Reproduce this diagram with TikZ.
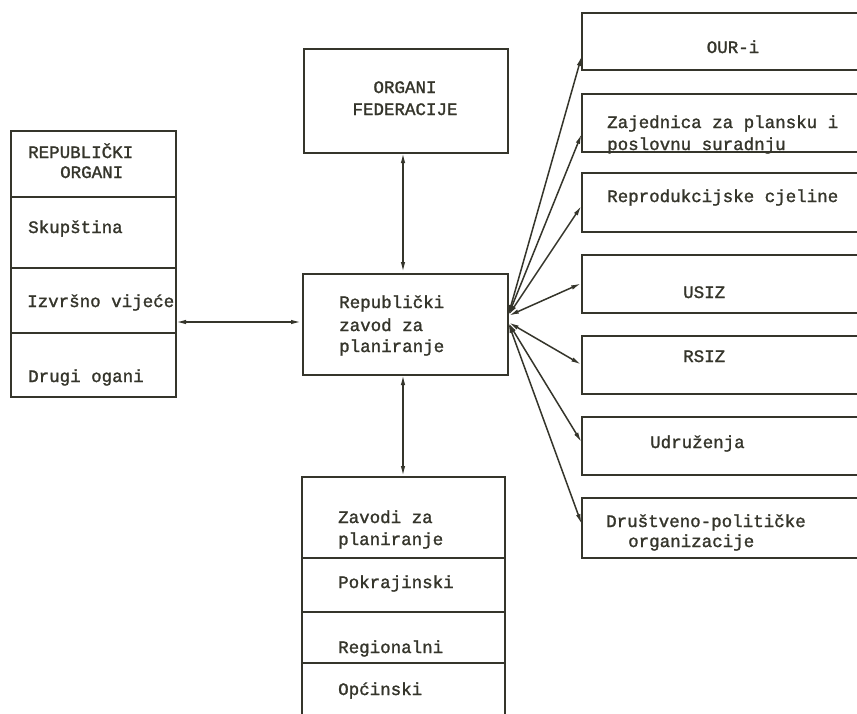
\documentclass[tikz,border=0pt]{standalone}
\usepackage{fontspec}
\setmonofont[FakeBold=1.4]{Liberation Mono}
\usetikzlibrary{arrows.meta}
\definecolor{ink}{HTML}{35352B}
\begin{document}
\begin{tikzpicture}[x=1pt,y=-1pt,
  box/.style={draw=ink,line width=2pt,rectangle,inner sep=0pt,anchor=north west},
  openbox/.style={rectangle,inner sep=0pt,anchor=north west},
  edge/.style={draw=ink,line width=2pt},
  txt/.style={text=ink,font=\ttfamily\fontsize{17.5}{20}\selectfont,inner sep=0pt},
  link/.style={draw=ink,line width=1.5pt,{Latex[length=10pt,width=4.5pt]}-{Latex[length=10pt,width=4.5pt]},shorten <=1pt,shorten >=1pt}]
\useasboundingbox[fill=white] (0,0) rectangle (857,713);

% left box
\node[box,minimum width=165pt,minimum height=266pt] (rep) at (10,130) {};
\draw[edge] (10,197) -- (175,197);
\draw[edge] (10,268) -- (175,268);
\draw[edge] (10,333) -- (175,333);
\node[txt,anchor=base west] (t1) at (28,158) {REPUBLIČKI};
\node[txt,anchor=base west] (t2) at (60,178) {ORGANI};
\node[txt,anchor=base west] (t3) at (28,233) {Skupština};
\node[txt,anchor=base west] (t4) at (27,307) {Izvršno vijeće};
\node[txt,anchor=base west] (t5) at (28,382) {Drugi ogani};
\coordinate (repA) at (175,322);

% top box
\node[box,minimum width=204pt,minimum height=104pt] (fed) at (303,48) {};
\node[txt,anchor=base] (f1) at (405,93) {ORGANI};
\node[txt,anchor=base] (f2) at (405,115) {FEDERACIJE};

% center box
\node[box,minimum width=205pt,minimum height=101pt] (rz) at (302,273) {};
\node[txt,anchor=base west] (c1) at (339,308) {Republički};
\node[txt,anchor=base west] (c2) at (339,331) {zavod za};
\node[txt,anchor=base west] (c3) at (339,352) {planiranje};

% bottom box (open at bottom)
\node[openbox,minimum width=203pt,minimum height=240pt] (zav) at (302,477) {};
\draw[edge] (302,716) -- (302,477) -- (505,477) -- (505,716);
\draw[edge] (302,558) -- (505,558);
\draw[edge] (302,612) -- (505,612);
\draw[edge] (302,663) -- (505,663);
\node[txt,anchor=base west] (z1) at (338,523) {Zavodi za};
\node[txt,anchor=base west] (z2) at (338,545) {planiranje};
\node[txt,anchor=base west] (z3) at (338,588) {Pokrajinski};
\node[txt,anchor=base west] (z4) at (338,653) {Regionalni};
\node[txt,anchor=base west] (z5) at (338,695) {Općinski};

% right boxes (open at right)
\foreach \n/\t/\b in {our/13/70, zaj/94/152, rc/173/232, usiz/255/313, rsiz/336/394, udr/417/475, dpo/498/558}{
  \node[openbox,minimum width=278pt,minimum height={(\b-\t)*1pt}] (\n) at (582,\t) {};
  \draw[edge] (862,\t) -- (582,\t) -- (582,\b) -- (862,\b);
}
\node[txt,anchor=base] (r1) at (733,53) {OUR-i};
\node[txt,anchor=base west] (r2) at (607,128) {Zajednica za plansku i};
\node[txt,anchor=base west] (r3) at (607,150) {poslovnu suradnju};
\node[txt,anchor=base west] (r4) at (607,202) {Reprodukcijske cjeline};
\node[txt,anchor=base west] (r5) at (683,298) {USIZ};
\node[txt,anchor=base west] (r6) at (683,362) {RSIZ};
\node[txt,anchor=base west] (r7) at (650,448) {Udruženja};
\node[txt,anchor=base west] (r8) at (606,527) {Društveno-političke};
\node[txt,anchor=base west] (r9) at (628,547) {organizacije};

% connectors
\coordinate (fedS) at (403,152);
\coordinate (rzN) at (403,273);
\coordinate (rzS) at (403,374);
\coordinate (zavN) at (403,477);
\coordinate (rzW) at (302,322);
\coordinate (hubU) at (508,316);
\coordinate (hubL) at (508,322);
\draw[link] (repA) -- (rzW);
\draw[link] (fedS) -- (rzN);
\draw[link] (rzS) -- (zavN);
\coordinate (eOur) at (582,55);
\coordinate (eZaj) at (582,133);
\coordinate (eRc) at (582,205);
\coordinate (eUsiz) at (582,283);
\coordinate (eRsiz) at (582,365);
\coordinate (eUdr) at (582,443);
\coordinate (eDpo) at (582,525);
\draw[link] (hubU) -- (eOur);
\draw[link] (hubU) -- (eZaj);
\draw[link] (hubU) -- (eRc);
\draw[link] (hubU) -- (eUsiz);
\draw[link] (hubL) -- (eRsiz);
\draw[link] (hubL) -- (eUdr);
\draw[link] (hubL) -- (eDpo);
\end{tikzpicture}
\end{document}
